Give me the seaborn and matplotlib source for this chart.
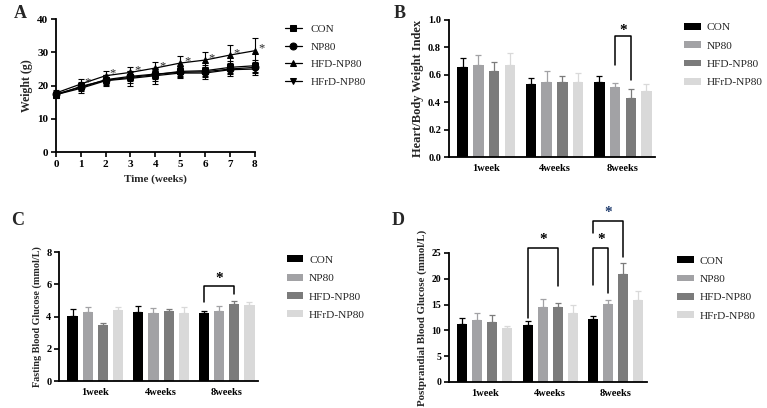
# -*- coding: utf-8 -*-
"""
Body weight, heart index and blood glucose panels (A-D)
"""

import pandas as pd
import matplotlib.pyplot as plt
import numpy as np
import seaborn as sns

sns.set_style('ticks')
plt.rcParams['font.family'] = ['Liberation Serif', 'DejaVu Serif']
plt.rcParams['font.weight'] = 'bold'

groups = ['CON', 'NP80', 'HFD-NP80', 'HFrD-NP80']
colors = {'CON': '#000000', 'NP80': '#a2a2a5', 'HFD-NP80': '#7b7b7b', 'HFrD-NP80': '#d9d9d9'}
markers = {'CON': 's', 'NP80': 'o', 'HFD-NP80': '^', 'HFrD-NP80': 'v'}

# A: weight over time
weeks = [0, 1, 2, 3, 4, 5, 6, 7, 8]
w_con = [17.2, 19.8, 21.6, 22.5, 23.3, 24.3, 24.5, 25.5, 26.0]
w_np80 = [17.5, 19.5, 21.8, 22.8, 23.5, 24.0, 24.2, 25.0, 25.5]
w_hfd = [17.8, 20.5, 23.0, 24.0, 25.3, 26.8, 27.7, 29.2, 30.5]
w_hfrd = [17.3, 19.2, 21.5, 22.2, 23.0, 23.8, 23.8, 24.8, 25.0]
w_con_sd = [0.8, 1.2, 1.5, 1.6, 1.8, 1.5, 1.6, 1.8, 1.8]
w_np80_sd = [0.8, 1.2, 1.4, 1.5, 1.6, 1.5, 1.5, 1.6, 1.6]
w_hfd_sd = [0.9, 1.5, 1.3, 1.7, 1.9, 2.2, 2.5, 3.1, 3.7]
w_hfrd_sd = [0.8, 1.5, 1.6, 2.2, 2.4, 1.6, 1.7, 1.9, 1.8]

# Bar panels
timepoints = ['1week', '4weeks', '8weeks']
heart = {'CON': [0.655, 0.535, 0.550], 'NP80': [0.675, 0.550, 0.512],
         'HFD-NP80': [0.630, 0.548, 0.432], 'HFrD-NP80': [0.670, 0.545, 0.480]}
heart_sd = {'CON': [0.065, 0.040, 0.045], 'NP80': [0.070, 0.075, 0.030],
            'HFD-NP80': [0.065, 0.040, 0.068], 'HFrD-NP80': [0.090, 0.070, 0.050]}
fbg = {'CON': [4.05, 4.30, 4.25], 'NP80': [4.30, 4.20, 4.35],
       'HFD-NP80': [3.50, 4.35, 4.80], 'HFrD-NP80': [4.40, 4.25, 4.70]}
fbg_sd = {'CON': [0.45, 0.38, 0.10], 'NP80': [0.30, 0.35, 0.30],
          'HFD-NP80': [0.10, 0.12, 0.15], 'HFrD-NP80': [0.20, 0.35, 0.20]}
pbg = {'CON': [11.3, 11.1, 12.1], 'NP80': [12.0, 14.5, 15.1],
       'HFD-NP80': [11.6, 14.5, 20.9], 'HFrD-NP80': [10.5, 13.4, 15.9]}
pbg_sd = {'CON': [1.1, 0.7, 0.6], 'NP80': [1.4, 1.5, 0.7],
          'HFD-NP80': [1.3, 0.8, 2.1], 'HFrD-NP80': [0.3, 1.6, 1.8]}

fig = plt.figure(figsize=(7.67, 4.08), dpi=100)
axA = fig.add_axes([0.073, 0.627, 0.259, 0.326])
axB = fig.add_axes([0.585, 0.615, 0.269, 0.336])
axC = fig.add_axes([0.077, 0.066, 0.259, 0.316])
axD = fig.add_axes([0.585, 0.064, 0.258, 0.316])

leg_prop = {'family': 'Liberation Serif', 'size': 8.2, 'weight': 'normal'}


def style_axis(ax, tick_size=7.5):
    sns.despine(ax=ax)
    for s in ['left', 'bottom']:
        ax.spines[s].set_linewidth(1.3)
        ax.spines[s].set_color('black')
    ax.tick_params(width=1.2, length=3.5, labelsize=tick_size, colors='black', pad=2)
    for t in ax.get_xticklabels() + ax.get_yticklabels():
        t.set_fontweight('bold')


# ---- A: line plot ----
series = {'CON': (w_con, w_con_sd), 'NP80': (w_np80, w_np80_sd),
          'HFD-NP80': (w_hfd, w_hfd_sd), 'HFrD-NP80': (w_hfrd, w_hfrd_sd)}
rows = []
for g, (vals, sds) in series.items():
    for wk, v in zip(weeks, vals):
        rows.append({'week': wk, 'weight': v, 'group': g})
dfA = pd.DataFrame(rows)
sns.lineplot(data=dfA, x='week', y='weight', hue='group', style='group',
             palette={g: 'black' for g in groups}, markers=markers, dashes=False,
             markersize=5, linewidth=0.9, markeredgecolor='black', ax=axA,
             errorbar=None, clip_on=False, zorder=3)
for g, (vals, sds) in series.items():
    axA.errorbar(weeks, vals, yerr=sds, fmt='none', ecolor='black', elinewidth=0.8,
                 capsize=2.5, capthick=0.8, clip_on=False)
for wk, v, sd in zip(weeks[1:], w_hfd[1:], w_hfd_sd[1:]):
    axA.text(wk + 0.28, v + 0.6, '*', fontsize=9, ha='center', va='center', fontweight='normal')
axA.set_xlim(0, 8)
axA.set_ylim(0, 40)
axA.set_xticks(weeks)
axA.set_yticks([0, 10, 20, 30, 40])
axA.set_xlabel('Time (weeks)', fontsize=8, fontweight='bold')
axA.set_ylabel('Weight (g)', fontsize=8.5, fontweight='bold', labelpad=3)
style_axis(axA, 8)
h, l = axA.get_legend_handles_labels()
axA.legend(h, l, loc='upper left', bbox_to_anchor=(0.366, 0.952), bbox_transform=fig.transFigure,
           frameon=False, prop={'family': 'Liberation Serif', 'size': 8, 'weight': 'normal'},
           handlelength=1.5, labelspacing=0.72, borderaxespad=0)


# ---- bar panels ----
def bar_panel(ax, means, sds, ylim, yticks, ylabel, label_size, legend_xy):
    rows = []
    for g in groups:
        for t, v in zip(timepoints, means[g]):
            rows.append({'time': t, 'value': v, 'group': g})
    df = pd.DataFrame(rows)
    sns.barplot(data=df, x='time', y='value', hue='group', hue_order=groups,
                palette=colors, errorbar=None, width=0.92, gap=0.33, ax=ax,
                saturation=1, edgecolor='none')
    centers = {}
    for g, cont in zip(groups, ax.containers):
        xs = [b.get_x() + b.get_width() / 2 for b in cont]
        centers[g] = xs
        ax.errorbar(xs, means[g], yerr=[np.zeros(3), sds[g]], fmt='none',
                    ecolor=colors[g], elinewidth=0.9, capsize=2.5, capthick=0.9)
    ax.set_xlim(-0.55, 2.47)
    ax.set_ylim(*ylim)
    ax.set_yticks(yticks)
    ax.set_xlabel('')
    ax.set_ylabel(ylabel, fontsize=label_size, fontweight='bold', labelpad=3)
    style_axis(ax)
    ax.tick_params(axis='x', length=0, pad=5)
    h, l = ax.get_legend_handles_labels()
    ax.legend(h, l, loc='upper left', bbox_to_anchor=legend_xy, bbox_transform=fig.transFigure,
              frameon=False, prop=leg_prop, handlelength=1.45, handleheight=0.55,
              handletextpad=0.5, labelspacing=0.78, borderaxespad=0, borderpad=0)
    return centers


def bracket(ax, x1, x2, y1, y2, top, star_y, color='black'):
    ax.plot([x1, x1, x2, x2], [y1, top, top, y2], color='black', lw=1.1, clip_on=False)
    ax.text((x1 + x2) / 2, star_y, '*', fontsize=11, ha='center', va='center',
            color=color, fontweight='bold', clip_on=False)


cB = bar_panel(axB, heart, heart_sd, (0, 1.0), [0, 0.2, 0.4, 0.6, 0.8, 1.0],
               'Heart/Body Weight Index', 9, (0.892, 0.944))
axB.yaxis.set_major_formatter(plt.FormatStrFormatter('%.1f'))
bracket(axB, cB['NP80'][2], cB['HFD-NP80'][2], 0.67, 0.56, 0.883, 0.925)

cC = bar_panel(axC, fbg, fbg_sd, (0, 8), [0, 2, 4, 6, 8],
               'Fasting Blood Glucose (mmol/L)', 7.3, (0.374, 0.374))
bracket(axC, cC['CON'][2], cC['HFD-NP80'][2], 4.9, 5.4, 5.9, 6.35)

cD = bar_panel(axD, pbg, pbg_sd, (0, 25), [0, 5, 10, 15, 20, 25],
               'Postprandial Blood Glucose (mmol/L)', 7.8, (0.883, 0.372))
axD.tick_params(axis='y', labelsize=7)
bracket(axD, cD['CON'][1], cD['HFD-NP80'][1], 12.4, 18.5, 26.0, 27.6)
bracket(axD, cD['CON'][2], cD['NP80'][2], 18.8, 17.2, 26.0, 27.6)
bracket(axD, cD['CON'][2], cD['HFD-NP80'][2], 28.8, 24.3, 31.2, 32.9, color='#1f3c6e')

# panel letters
for txt, x, y in [('A', 0.018, 0.967), ('B', 0.513, 0.967), ('C', 0.014, 0.46), ('D', 0.51, 0.46)]:
    fig.text(x, y, txt, fontsize=13, fontweight='bold', va='center', ha='left')

plt.savefig('out.png', dpi=100)
plt.close()
